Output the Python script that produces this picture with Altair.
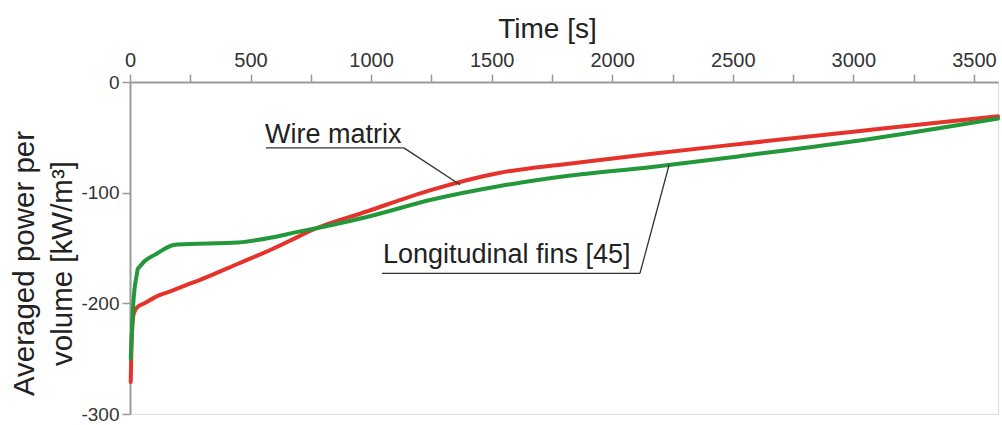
import altair as alt
import pandas as pd

# Wire matrix (red)
wire_t = [3, 5, 7, 10, 14, 20, 28, 60, 117, 170, 228, 311, 450, 600, 705, 753,
          982, 1258, 1535, 1811, 2157, 2530, 3083, 3600]
wire_p = [-271, -250, -232, -220, -211, -207, -204, -200, -193, -189, -184, -177,
          -164, -150, -139, -134, -117, -97, -82, -74, -65, -56, -43, -31]

# Longitudinal fins [45] (green)
fins_t = [3, 8, 14, 29, 32, 36, 60, 104, 180, 187, 200, 449, 600, 705, 753, 982,
          1258, 1535, 1811, 2157, 2530, 3083, 3600]
fins_p = [-250, -225, -199, -173, -169, -168, -162, -156, -147.3, -147, -146.8,
          -145, -140, -135, -133, -122, -106, -94, -85, -77, -67, -51, -33]

series_names = ["Wire matrix", "Longitudinal fins [45]"]
series_colors = ["#e5322b", "#23983b"]

x_ticks = [0, 250, 500, 750, 1000, 1250, 1500, 1750, 2000, 2250, 2500, 2750,
           3000, 3250, 3500]
y_ticks = [0, -100, -200, -300]

# Annotation labels (data coordinates)
label_text = ["Wire matrix", "Longitudinal fins [45]"]
label_t = [560, 1049]
label_p = [-55, -164]

# Leader / underline segments
seg_t = [564, 1136, 1045, 2115]
seg_p = [-59.5, -59.5, -173, -173]
seg_t2 = [1136, 1369, 2115, 2236]
seg_p2 = [-59.5, -92.8, -173, -74.8]

rows = []
for t, p in zip(wire_t, wire_p):
    rows.append({"t": t, "p": p, "s": series_names[0]})
for t, p in zip(fins_t, fins_p):
    rows.append({"t": t, "p": p, "s": series_names[1]})
df = pd.DataFrame(rows)

lab_df = pd.DataFrame({"t": label_t, "p": label_p, "txt": label_text})
seg_df = pd.DataFrame({"t": seg_t, "p": seg_p, "t2": seg_t2, "p2": seg_p2})

FONT = "Liberation Sans"

xscale = alt.Scale(domain=[0, 3600], nice=False, zero=False)
yscale = alt.Scale(domain=[-300, 0], nice=False)

lines = alt.Chart(df).mark_line(strokeWidth=4, strokeCap="round", strokeJoin="round",
                                interpolate="monotone").encode(
    x=alt.X("t:Q", scale=xscale,
            axis=alt.Axis(orient="top", title="Time [s]", values=x_ticks,
                          labelExpr="datum.value % 500 == 0 ? '' + datum.value : ''",
                          grid=False, tickSize=8, tickWidth=1.5, tickColor="#9a9a9a",
                          domainColor="#9a9a9a", domainWidth=2,
                          labelFontSize=20, labelColor="#333333", labelPadding=4,
                          labelFont=FONT, titleFont=FONT, titleFontSize=28,
                          titleFontWeight="normal", titleColor="#222222",
                          titleX=417, titleY=-45, titleAlign="center",
                          titleBaseline="alphabetic", labelFlush=False)),
    y=alt.Y("p:Q", scale=yscale,
            axis=alt.Axis(title=["Averaged power per", "volume [kW/m³]"], values=y_ticks,
                          labelExpr="'' + datum.value",
                          grid=False, tickSize=8, tickWidth=1.5, tickColor="#9a9a9a",
                          domainColor="#9a9a9a", domainWidth=2,
                          labelFontSize=19, labelColor="#333333", labelPadding=3,
                          labelFont=FONT, titleFont=FONT, titleFontSize=29.5,
                          titleFontWeight="normal", titleColor="#222222",
                          titleLineHeight=38, titleAngle=-90,
                          titleX=-97, titleY=181, titleAlign="center",
                          titleBaseline="alphabetic", labelFlush=False)),
    color=alt.Color("s:N", scale=alt.Scale(domain=series_names, range=series_colors),
                    legend=None),
    detail="s:N",
)

segs = alt.Chart(seg_df).mark_rule(color="#333333", strokeWidth=1.3).encode(
    x="t:Q", y="p:Q", x2="t2:Q", y2="p2:Q"
)

labels = alt.Chart(lab_df).mark_text(align="left", baseline="alphabetic", font=FONT,
                                     fontSize=27, color="#222222").encode(
    x="t:Q", y="p:Q", text="txt:N"
)

chart = alt.layer(lines, segs, labels).properties(
    width=868, height=332,
    autosize=alt.AutoSizeParams(type="none"),
    padding={"left": 130, "top": 82, "right": 4, "bottom": 11},
).configure_view(stroke=None).configure(background="white")

chart.save("out.html", embed_options={"renderer": "svg", "actions": False})
